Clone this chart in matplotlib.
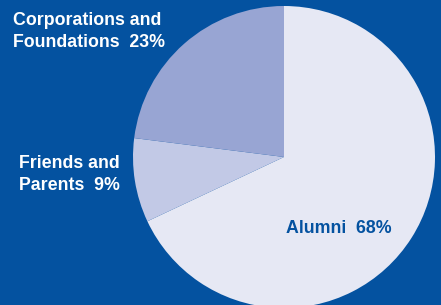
import matplotlib
matplotlib.use("Agg")
import matplotlib.pyplot as plt

categories = ["Alumni", "Friends and\nParents", "Corporations and\nFoundations"]
values = [68, 9, 23]
colors = ["#e6e8f4", "#c2c9e6", "#98a5d3"]
bg = "#0452a0"

fig = plt.figure(figsize=(4.41, 3.05), dpi=100, facecolor=bg)
ax = fig.add_axes([0, 0, 1, 1])
ax.set_facecolor(bg)

ax.pie(values, colors=colors, startangle=90, counterclock=False,
       center=(284, 305 - 157), radius=151, frame=True,
       wedgeprops=dict(linewidth=0))
ax.set_xlim(0, 441)
ax.set_ylim(0, 305)
ax.axis("off")

fs = 12.8
fam = ["Liberation Sans", "DejaVu Sans"]
ax.text(13, 305 - 25, "Corporations and", color="white", fontsize=fs,
        fontweight="bold", family=fam, ha="left", va="baseline")
ax.text(13, 305 - 47, f"Foundations  {values[2]}%", color="white", fontsize=fs,
        fontweight="bold", family=fam, ha="left", va="baseline")
ax.text(19, 305 - 168, "Friends and", color="white", fontsize=fs,
        fontweight="bold", family=fam, ha="left", va="baseline")
ax.text(19, 305 - 190, f"Parents  {values[1]}%", color="white", fontsize=fs,
        fontweight="bold", family=fam, ha="left", va="baseline")
ax.text(286, 305 - 233, f"Alumni  {values[0]}%", color=bg, fontsize=fs,
        fontweight="bold", family=fam, ha="left", va="baseline")

fig.savefig("out.png", dpi=100, facecolor=bg)
